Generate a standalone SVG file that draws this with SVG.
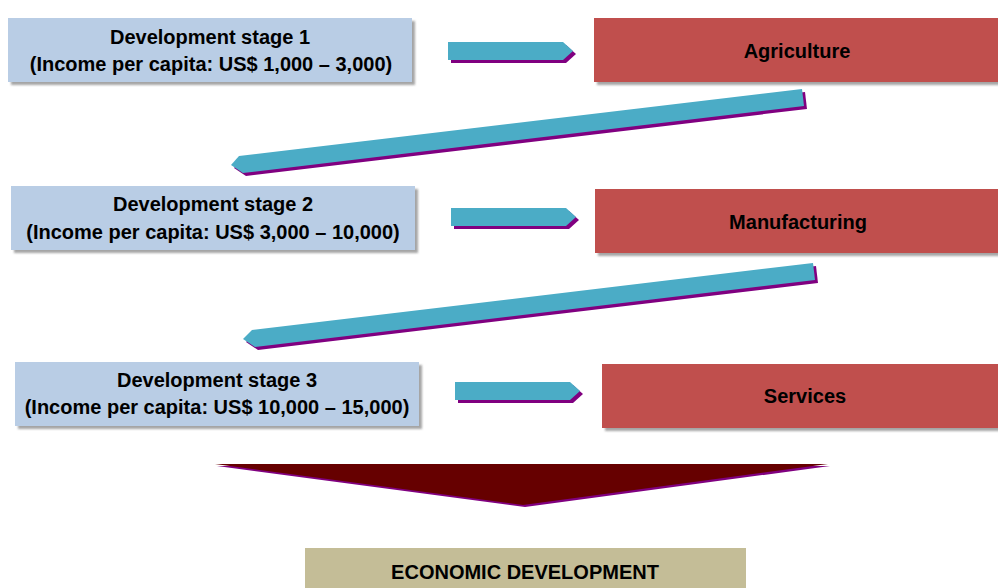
<svg xmlns="http://www.w3.org/2000/svg" width="998" height="588" viewBox="0 0 998 588">
  <defs>
    <filter id="sh" x="-5%" y="-20%" width="110%" height="140%">
      <feDropShadow dx="3" dy="3" stdDeviation="1" flood-color="#7f7f7f" flood-opacity="0.7"/>
    </filter>
  </defs>
  <style>
    .stage { fill: #B9CDE5; filter: url(#sh); }
    .sector { fill: #C0504D; filter: url(#sh); }
    .goal { fill: #C4BD97; }
    .t { font-family: "Liberation Sans", Arial, sans-serif; font-size: 20px; font-weight: bold; fill: #000; text-anchor: middle; }
    .arr { fill: #4BACC6; }
    .arrsh { fill: #800080; }
    .big { fill: #660000; }
  </style>
  <rect width="998" height="588" fill="#ffffff"/>

  <g id="connectors">
    <g id="arrow-stage1-agriculture">
      <polygon class="arrsh" transform="translate(3,3)" points="448,42 563,42 573,51 563,60 448,60"/>
      <polygon class="arr" points="448,42 563,42 573,51 563,60 448,60"/>
    </g>
    <g id="arrow-agriculture-stage2">
      <polygon class="arrsh" transform="translate(3,3)" points="802,89 804,106 243,173 231,165 239,156"/>
      <polygon class="arr" points="802,89 804,106 243,173 231,165 239,156"/>
    </g>
    <g id="arrow-stage2-manufacturing">
      <polygon class="arrsh" transform="translate(3,3)" points="451,208 566,208 576,217 566,226 451,226"/>
      <polygon class="arr" points="451,208 566,208 576,217 566,226 451,226"/>
    </g>
    <g id="arrow-manufacturing-stage3">
      <polygon class="arrsh" transform="translate(3,3)" points="813,263 815,280 255,347 243,339 252,330"/>
      <polygon class="arr" points="813,263 815,280 255,347 243,339 252,330"/>
    </g>
    <g id="arrow-stage3-services">
      <polygon class="arrsh" transform="translate(3,3)" points="455,382 570,382 580,391 570,400 455,400"/>
      <polygon class="arr" points="455,382 570,382 580,391 570,400 455,400"/>
    </g>
    <g id="arrow-economic-development">
      <polygon class="arrsh" transform="translate(2,2)" points="215,464 828,464 523,505"/>
      <polygon class="big" points="215,464 828,464 523,505"/>
    </g>
  </g>

  <g id="stage1">
    <rect class="stage" x="8" y="18" width="404" height="64"/>
    <text class="t" x="210" y="44">Development stage 1</text>
    <text class="t" x="211" y="71">(Income per capita: US$ 1,000 – 3,000)</text>
  </g>
  <g id="agriculture">
    <rect class="sector" x="594" y="18" width="406" height="64"/>
    <text class="t" x="797" y="58">Agriculture</text>
  </g>

  <g id="stage2">
    <rect class="stage" x="11" y="186" width="404" height="64"/>
    <text class="t" x="213" y="211">Development stage 2</text>
    <text class="t" x="213" y="239">(Income per capita: US$ 3,000 – 10,000)</text>
  </g>
  <g id="manufacturing">
    <rect class="sector" x="595" y="189" width="406" height="64"/>
    <text class="t" x="798" y="229">Manufacturing</text>
  </g>

  <g id="stage3">
    <rect class="stage" x="15" y="362" width="404" height="64"/>
    <text class="t" x="217" y="387">Development stage 3</text>
    <text class="t" x="217" y="414">(Income per capita: US$ 10,000 – 15,000)</text>
  </g>
  <g id="services">
    <rect class="sector" x="602" y="364" width="406" height="64"/>
    <text class="t" x="805" y="403">Services</text>
  </g>

  <g id="economic-development">
    <rect class="goal" x="305" y="548" width="441" height="44"/>
    <text class="t" x="525" y="579">ECONOMIC DEVELOPMENT</text>
  </g>
</svg>
